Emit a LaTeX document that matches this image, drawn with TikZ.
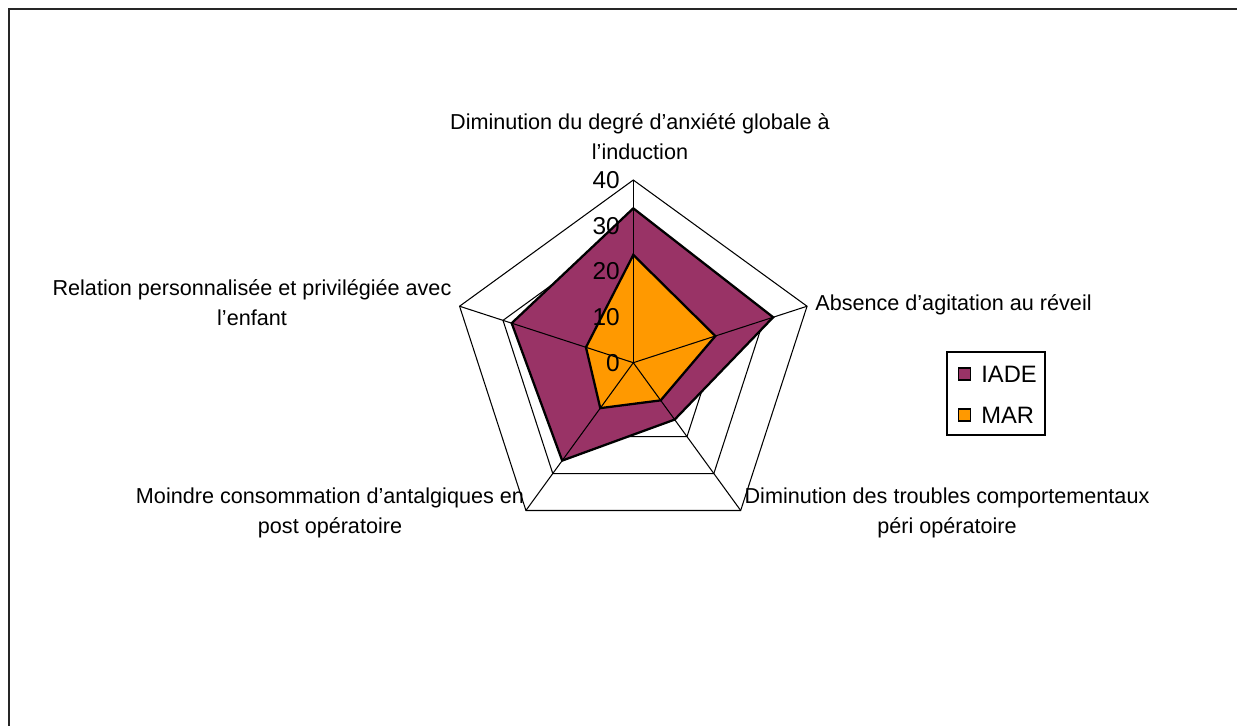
\documentclass[tikz,border=0pt]{standalone}
\usepackage{fontspec}
\setmainfont{Liberation Sans}
\usetikzlibrary{positioning}
\definecolor{iade}{HTML}{993366}
\definecolor{mar}{HTML}{FF9900}
\tikzset{
  axislabel/.style={align=center,inner sep=0pt,
    font=\fontsize{12.3}{17}\selectfont},
  ticklabel/.style={anchor=east,inner sep=0pt,
    font=\fontsize{13.9}{16}\selectfont},
  legendtext/.style={anchor=west,inner sep=0pt,
    font=\fontsize{13.5}{16}\selectfont},
  legendkey/.style={draw=black,line width=0.9pt,minimum size=0.245cm,inner sep=0pt},
  ring/.style={draw=black,line width=0.6pt},
  spoke/.style={draw=black,line width=0.6pt},
  series/.style={draw=black,line width=1.3pt,line join=miter},
  frame/.style={draw=black!85,line width=1.1pt}
}

\begin{document}
\begin{tikzpicture}[x=0.02cm,y=0.02cm]
  \useasboundingbox (0,0) rectangle (1237,726);
  \draw[frame] (9,0) -- (9,717) -- (1237,717);

  % radar, one unit = one point of the scale
  \begin{scope}[shift={(633.3,363.3)},x=0.09135cm,y=0.09135cm]
    \foreach \r in {10,20,30,40}
      \draw[ring] (90:\r) -- (18:\r) -- (-54:\r) -- (-126:\r) -- (162:\r) -- cycle;
    \draw[series,fill=iade] (90:33.8) -- (18:32.2) -- (-54:15.4) -- (-126:26.5)
      -- (162:28) -- cycle;
    \draw[series,fill=mar] (90:23.6) -- (18:18.9) -- (-54:10.2) -- (-126:12.3)
      -- (162:10.9) -- cycle;
    \foreach \a in {90,18,-54,-126,162}
      \draw[spoke] (0,0) -- (\a:40);
    \foreach \v in {0,10,20,30,40}
      \node[ticklabel] (tick\v) at (-2.9,\v) {\v};
  \end{scope}

  \node[axislabel] (anx) at (640,589)
    {Diminution du degré d’anxiété globale à\\l’induction};
  \node[axislabel,anchor=west] (agit) at (815,421)
    {Absence d’agitation au réveil};
  \node[axislabel] (troub) at (947,213.5)
    {Diminution des troubles comportementaux\\péri opératoire};
  \node[axislabel] (antal) at (330,213.5)
    {Moindre consommation d’antalgiques en\\post opératoire};
  \node[axislabel] (relat) at (252,423.5)
    {Relation personnalisée et privilégiée avec\\l’enfant};

  % legend
  \node[draw=black,line width=0.7pt,minimum width=1.96cm,minimum height=1.66cm]
    (legend) at (996,332.5) {};
  \node[legendkey,fill=iade] (keyiade) at (964.5,352) {};
  \node[legendtext] (txtiade) at (981,352) {IADE};
  \node[legendkey,fill=mar] (keymar) at (964.5,311) {};
  \node[legendtext] (txtmar) at (981,311) {MAR};
\end{tikzpicture}
\end{document}
